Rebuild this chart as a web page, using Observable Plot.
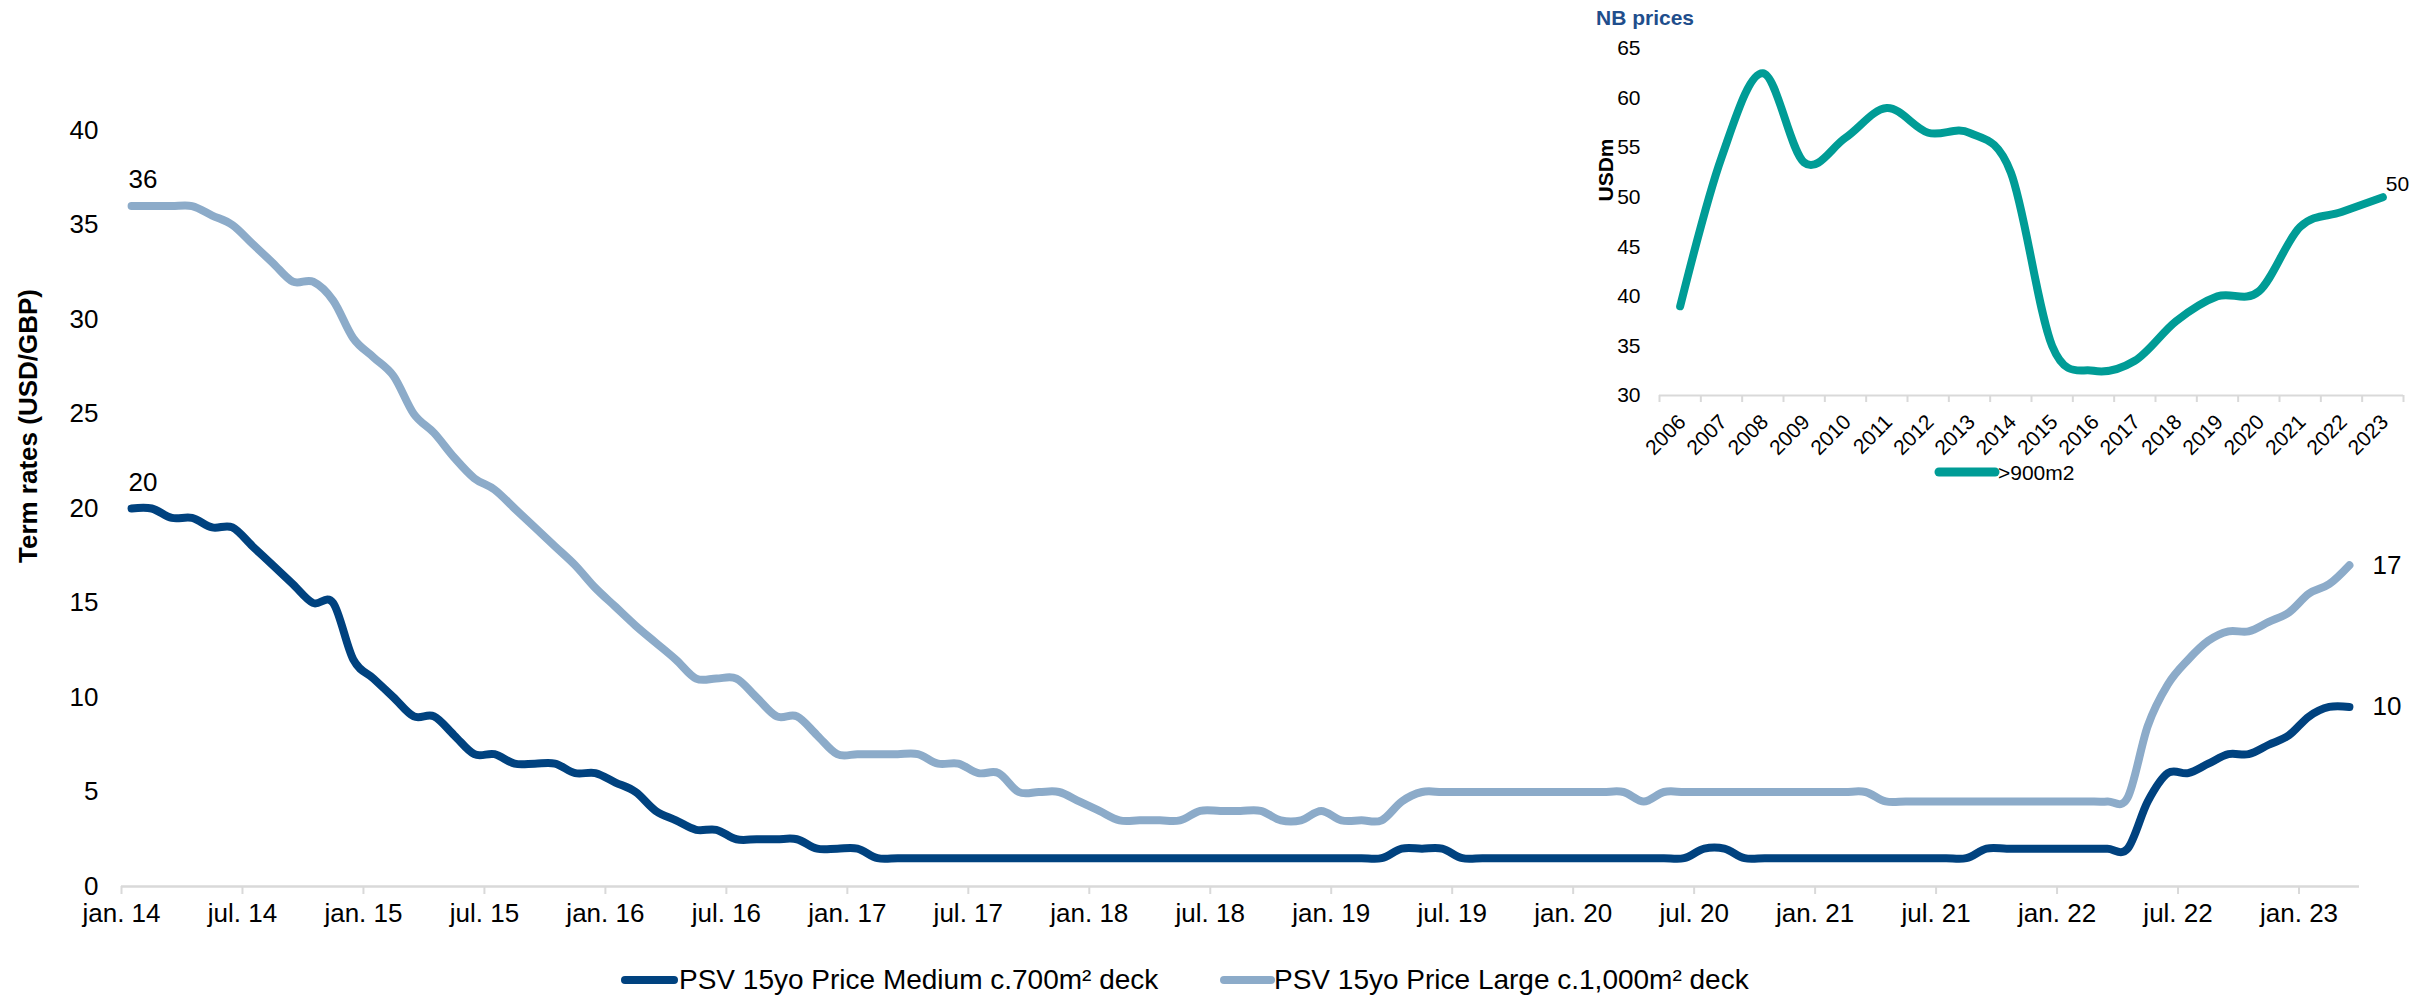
<!DOCTYPE html>
<html><head><meta charset="utf-8">
<script src="https://cdn.jsdelivr.net/npm/d3@7"></script>
<script src="https://cdn.jsdelivr.net/npm/@observablehq/plot@0.6"></script>
<style>
body{margin:0;background:#fff;font-family:"Liberation Sans",Arial,sans-serif;}
#wrap{position:relative;width:2430px;height:998px;overflow:hidden;background:#fff;}
#main,#inset{position:absolute;top:0;}
#main{left:0;}
#inset{left:1560px;}
.abs{position:absolute;white-space:nowrap;line-height:1;}
</style></head><body><div id="wrap"></div>
<script>
// ---- Main chart data: monthly, jan. 2014 .. mar. 2023 ----
const mediumName = "PSV 15yo Price Medium c.700m² deck";
const largeName = "PSV 15yo Price Large c.1,000m² deck";
const mediumValues = [
  20, 20, 19.5, 19.5, 19, 19, 18, 17, 16, 15,
  15, 12, 11, 10, 9, 9, 8, 7, 7, 6.5,
  6.5, 6.5, 6, 6, 5.5, 5, 4, 3.5, 3, 3,
  2.5, 2.5, 2.5, 2.5, 2, 2, 2, 1.5, 1.5, 1.5,
  1.5, 1.5, 1.5, 1.5, 1.5, 1.5, 1.5, 1.5, 1.5, 1.5,
  1.5, 1.5, 1.5, 1.5, 1.5, 1.5, 1.5, 1.5, 1.5, 1.5,
  1.5, 1.5, 1.5, 2, 2, 2, 1.5, 1.5, 1.5, 1.5,
  1.5, 1.5, 1.5, 1.5, 1.5, 1.5, 1.5, 1.5, 2, 2,
  1.5, 1.5, 1.5, 1.5, 1.5, 1.5, 1.5, 1.5, 1.5, 1.5,
  1.5, 1.5, 2, 2, 2, 2, 2, 2, 2, 2,
  4.5, 6, 6, 6.5, 7, 7, 7.5, 8, 9, 9.5, 9.5
];
const largeValues = [
  36, 36, 36, 36, 35.5, 35, 34, 33, 32, 32,
  31, 29, 28, 27, 25, 24, 22.7, 21.6, 21, 20,
  19, 18, 17, 15.8, 14.8, 13.8, 12.9, 12, 11, 11,
  11, 10, 9, 9, 8, 7, 7, 7, 7, 7,
  6.5, 6.5, 6, 6, 5, 5, 5, 4.5, 4, 3.5,
  3.5, 3.5, 3.5, 4, 4, 4, 4, 3.5, 3.5, 4,
  3.5, 3.5, 3.5, 4.5, 5, 5, 5, 5, 5, 5,
  5, 5, 5, 5, 5, 4.5, 5, 5, 5, 5,
  5, 5, 5, 5, 5, 5, 5, 4.5, 4.5, 4.5,
  4.5, 4.5, 4.5, 4.5, 4.5, 4.5, 4.5, 4.5, 4.5, 4.7,
  8.5, 10.7, 12, 13, 13.5, 13.5, 14, 14.5, 15.5, 16, 17
];
const monthCount = 111; // axis spans jan. 14 .. end of mar. 23
const tickLabels = ["jan. 14","jul. 14","jan. 15","jul. 15","jan. 16","jul. 16","jan. 17","jul. 17",
  "jan. 18","jul. 18","jan. 19","jul. 19","jan. 20","jul. 20","jan. 21","jul. 21","jan. 22","jul. 22","jan. 23"];
const yTicks = [0, 5, 10, 15, 20, 25, 30, 35, 40];

// ---- Inset data: NB prices (USDm) ----
const nbYears = [2006,2007,2008,2009,2010,2011,2012,2013,2014,2015,2016,2017,2018,2019,2020,2021,2022,2023];
const nbValues = [39, 54, 62.5, 53.5, 56, 59, 56.5, 56.5, 52.5, 35, 32.5, 33.5, 37.5, 40, 40.5, 47, 48.5, 50];
const nbTicks = [30, 35, 40, 45, 50, 55, 60, 65];
const nbSeriesName = ">900m2";

const DARK = "#00427F", LIGHT = "#8CABC9", TEAL = "#009C96", GRID = "#D9D9D9";
const FONT = "Liberation Sans, Arial, sans-serif";

const medium = mediumValues.map((v, i) => ({x: i + 0.5, y: v}));
const large = largeValues.map((v, i) => ({x: i + 0.5, y: v}));
const tickPos = tickLabels.map((_, k) => k * 6);

const main = Plot.plot({
  width: 2430, height: 950,
  marginLeft: 121, marginRight: 71, marginTop: 130, marginBottom: 64,
  style: {fontFamily: FONT, fontSize: "26px", color: "black", background: "transparent", overflow: "visible"},
  x: {domain: [0, monthCount], axis: null},
  y: {domain: [0, 40], axis: null},
  marks: [
    Plot.ruleY([0], {stroke: GRID, strokeWidth: 2.5}),
    Plot.axisX(tickPos, {tickSize: 8, tickPadding: 9, stroke: GRID, strokeWidth: 2, color: "black", fill: "black",
      tickFormat: d => tickLabels[Math.round(d / 6)], label: null, fontSize: 26}),
    Plot.axisY(yTicks, {tickSize: 0, tickPadding: 23, label: null, fontSize: 26, color: "black"}),
    Plot.line(large, {x: "x", y: "y", stroke: LIGHT, strokeWidth: 8, curve: "cardinal", strokeLinecap: "round", strokeLinejoin: "round"}),
    Plot.line(medium, {x: "x", y: "y", stroke: DARK, strokeWidth: 8, curve: "cardinal", strokeLinecap: "round", strokeLinejoin: "round"}),
    Plot.text([large[0], medium[0]], {x: "x", y: "y", text: d => String(Math.round(d.y)), textAnchor: "start", dx: -3, dy: -26, fontSize: 26, fill: "black"}),
    Plot.text([large[large.length - 1], medium[medium.length - 1]], {x: "x", y: "y", text: d => String(Math.round(d.y)), textAnchor: "start", dx: 23, fontSize: 26, fill: "black"})
  ]
});
main.id = "main";

const nb = nbYears.map((yr, i) => ({x: yr, y: nbValues[i]}));
const nbBounds = nbYears.map(y => y - 0.5).concat([nbYears[nbYears.length - 1] + 0.5]);
const inset = Plot.plot({
  width: 870, height: 500,
  marginLeft: 99, marginRight: 27, marginTop: 48, marginBottom: 105,
  style: {fontFamily: FONT, fontSize: "21px", color: "black", background: "transparent", overflow: "visible"},
  x: {domain: [nbBounds[0], nbBounds[nbBounds.length - 1]], axis: null},
  y: {domain: [30, 65], axis: null},
  marks: [
    Plot.ruleY([30], {stroke: GRID, strokeWidth: 2}),
    Plot.axisX(nbBounds, {tickSize: 7, tickFormat: () => "", stroke: GRID, strokeWidth: 2, label: null}),
    Plot.text(nb, {x: "x", y: () => 30, text: d => String(d.x), rotate: -45, textAnchor: "end", lineAnchor: "middle", dx: 2, dy: 23, fontSize: 21, fill: "black"}),
    Plot.axisY(nbTicks, {tickSize: 0, tickPadding: 19, label: null, fontSize: 21, color: "black"}),
    Plot.line(nb, {x: "x", y: "y", stroke: TEAL, strokeWidth: 8, curve: "cardinal", strokeLinecap: "round", strokeLinejoin: "round"}),
    Plot.text([nb[nb.length - 1]], {x: "x", y: "y", text: d => String(Math.round(d.y)), textAnchor: "start", dx: 3, dy: -13, fontSize: 21, fill: "black"})
  ]
});
inset.id = "inset";

const wrap = document.getElementById("wrap");
wrap.appendChild(main);
wrap.appendChild(inset);

function addDiv(html, css) {
  const d = document.createElement("div");
  d.className = "abs";
  d.innerHTML = html;
  Object.assign(d.style, css);
  wrap.appendChild(d);
  return d;
}
function swatch(x1, x2, y, color, w) {
  const d = document.createElementNS("http://www.w3.org/2000/svg", "svg");
  d.setAttribute("width", x2 - x1 + 12); d.setAttribute("height", 14);
  d.style.position = "absolute"; d.style.left = (x1 - 6) + "px"; d.style.top = (y - 7) + "px";
  d.innerHTML = `<line x1="6" x2="${x2 - x1 + 6}" y1="7" y2="7" stroke="${color}" stroke-width="${w}" stroke-linecap="round"/>`;
  wrap.appendChild(d);
}
// y-axis title
addDiv("Term rates (USD/GBP)", {left: "28px", top: "426px", fontSize: "26px", fontWeight: "bold", transform: "translate(-50%,-50%) rotate(-90deg)"});
// main legend
swatch(625, 674, 980, DARK, 8);
addDiv(mediumName, {left: "679px", top: "980px", fontSize: "28px", transform: "translateY(-50%)"});
swatch(1224, 1271, 980, LIGHT, 8);
addDiv(largeName, {left: "1274px", top: "980px", fontSize: "28px", transform: "translateY(-50%)"});
// inset title, y label, legend
addDiv("NB prices", {left: "1596px", top: "17px", fontSize: "21px", fontWeight: "bold", color: "#1F4E8C", transform: "translateY(-50%)"});
addDiv("USDm", {left: "1605px", top: "170px", fontSize: "21px", fontWeight: "bold", transform: "translate(-50%,-50%) rotate(-90deg)"});
swatch(1939, 1995, 472, TEAL, 9);
addDiv(nbSeriesName, {left: "1998px", top: "472px", fontSize: "21px", transform: "translateY(-50%)"});
</script></body></html>
